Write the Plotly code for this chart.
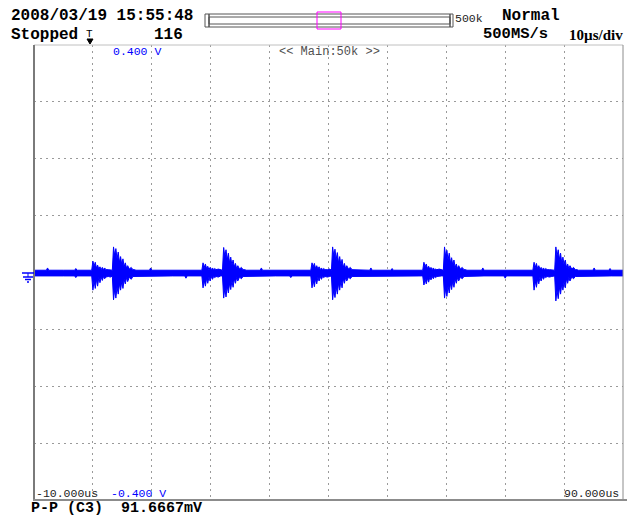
import plotly.graph_objects as go

# ---------------- data (time in microseconds, envelope voltage in mV) ----------------
base_t = [-10.0, -7.9, -7.7, -7.5, -5.0, -3.1, -2.9, -2.7, -0.4, 7.3, 9.6, 9.8, 10.0, 13.5,
          15.6, 15.8, 16.0, 18.3, 26.0, 28.4, 28.6, 28.8, 31.0, 33.4, 33.6, 33.8, 36.8, 44.5,
          47.0, 47.2, 47.4, 50.6, 50.8, 51.0, 53.5, 55.8, 63.5, 66.0, 66.2, 66.4, 69.8, 70.0,
          70.2, 74.5, 82.4, 84.9, 85.1, 85.3, 87.6, 87.8, 88.0, 90.0]
base_hi = [4, 4, 8, 4, 4, 4, 7, 4, 4, 4, 4, 8, 4, 4, 4, 4, 4, 4, 4, 4, 8, 4, 4, 4, 4, 4,
           4, 4, 4, 8, 4, 4, 7, 4, 4, 4, 4, 4, 8, 4, 4, 4, 4, 4, 4, 4, 8, 4, 4, 7, 4, 4]
base_lo = [-6, -6, -6, -6, -6, -6, -9, -6, -6, -6, -6, -6, -6, -6, -6, -10, -6, -6, -6, -6, -6, -6, -6, -6, -9, -6,
           -6, -6, -6, -6, -6, -6, -6, -6, -6, -6, -6, -6, -6, -6, -6, -10, -6, -6, -6, -6, -6, -6, -6, -6, -6, -6]

burst1_t = [-0.2, 0.0, 0.2, 0.4, 0.6, 0.8, 1.0, 1.2, 1.4, 1.6, 1.8, 2.0, 2.2, 2.6, 3.0, 3.3, 3.5,
            3.7, 3.9, 4.1, 4.3, 4.5, 4.7, 4.9, 5.1, 5.3, 5.5, 5.7, 5.9, 6.2, 6.5, 6.8, 7.1]
burst1_hi = [4, 20, 11, 18, 8, 13, 6, 10, 5, 9, 5, 8, 5, 5, 5, 4, 45,
             30, 42, 24, 36, 18, 28, 14, 24, 10, 17, 8, 12, 6, 9, 5, 5]
burst1_lo = [-6, -31, -15, -28, -12, -24, -9, -18, -8, -14, -7, -11, -8, -7, -8, -6, -48,
             -30, -45, -26, -38, -20, -31, -16, -28, -12, -20, -9, -16, -8, -12, -7, -7]

burst2_t = [18.5, 18.7, 18.9, 19.1, 19.3, 19.5, 19.7, 19.9, 20.1, 20.3, 20.5, 20.7, 20.9, 21.3, 21.7, 22.0, 22.2,
            22.4, 22.6, 22.8, 23.0, 23.2, 23.4, 23.6, 23.8, 24.0, 24.2, 24.4, 24.6, 24.9, 25.2, 25.5, 25.8]
burst2_hi = [4, 17, 9, 15, 7, 11, 5, 9, 5, 8, 5, 7, 5, 6, 5, 4, 44,
             28, 40, 22, 34, 17, 27, 13, 22, 10, 16, 7, 12, 6, 9, 5, 5]
burst2_lo = [-6, -27, -14, -24, -10, -19, -8, -15, -7, -12, -7, -9, -7, -8, -6, -6, -45,
             -28, -43, -24, -36, -19, -30, -15, -26, -11, -19, -9, -15, -8, -11, -7, -7]

burst3_t = [37.0, 37.2, 37.4, 37.6, 37.8, 38.0, 38.2, 38.4, 38.6, 38.8, 39.0, 39.2, 39.4, 39.8, 40.2, 40.5, 40.7,
            40.9, 41.1, 41.3, 41.5, 41.7, 41.9, 42.1, 42.3, 42.5, 42.7, 42.9, 43.1, 43.4, 43.7, 44.0, 44.3]
burst3_hi = [4, 17, 10, 16, 7, 12, 6, 10, 5, 8, 5, 7, 5, 5, 6, 4, 45,
             29, 41, 23, 35, 17, 28, 13, 23, 9, 16, 7, 12, 6, 9, 5, 5]
burst3_lo = [-6, -27, -14, -25, -11, -20, -8, -15, -7, -12, -7, -9, -7, -8, -7, -6, -48,
             -30, -44, -25, -38, -19, -31, -15, -27, -11, -19, -9, -15, -8, -11, -7, -7]

burst4_t = [56.0, 56.2, 56.4, 56.6, 56.8, 57.0, 57.2, 57.4, 57.6, 57.8, 58.0, 58.2, 58.4, 58.8, 59.2, 59.5, 59.7,
            59.9, 60.1, 60.3, 60.5, 60.7, 60.9, 61.1, 61.3, 61.5, 61.7, 61.9, 62.1, 62.4, 62.7, 63.0, 63.3]
burst4_hi = [4, 18, 10, 15, 7, 11, 6, 9, 5, 8, 5, 6, 5, 6, 5, 4, 45,
             28, 39, 22, 34, 17, 26, 13, 22, 9, 15, 7, 12, 6, 9, 5, 5]
burst4_lo = [-6, -22, -12, -20, -10, -17, -8, -13, -7, -11, -7, -9, -7, -7, -6, -6, -45,
             -28, -42, -24, -36, -19, -30, -15, -26, -11, -19, -9, -15, -8, -11, -7, -7]

burst5_t = [74.7, 74.9, 75.1, 75.3, 75.5, 75.7, 75.9, 76.1, 76.3, 76.5, 76.7, 76.9, 77.1, 77.5, 77.9, 78.4, 78.6,
            78.8, 79.0, 79.2, 79.4, 79.6, 79.8, 80.0, 80.2, 80.4, 80.6, 80.8, 81.0, 81.3, 81.6, 81.9, 82.2]
burst5_hi = [4, 18, 9, 16, 7, 12, 6, 9, 5, 8, 5, 7, 5, 5, 5, 4, 45,
             29, 40, 23, 34, 17, 27, 13, 22, 9, 15, 7, 12, 6, 9, 5, 5]
burst5_lo = [-6, -31, -15, -26, -11, -20, -8, -15, -7, -12, -7, -9, -7, -8, -7, -6, -50,
             -31, -46, -26, -38, -20, -31, -16, -27, -11, -19, -9, -15, -8, -11, -7, -7]

x_range_us = [-10, 90]
y_range_mV = [-400, 400]

# ---------------- assemble envelope ----------------
segments = [(base_t, base_hi, base_lo), (burst1_t, burst1_hi, burst1_lo),
            (burst2_t, burst2_hi, burst2_lo), (burst3_t, burst3_hi, burst3_lo),
            (burst4_t, burst4_hi, burst4_lo), (burst5_t, burst5_hi, burst5_lo)]
pts = []
for t, hi, lo in segments:
    assert len(t) == len(hi) == len(lo), (len(t), len(hi), len(lo))
    pts.extend(zip(t, hi, lo))
pts.sort(key=lambda p: p[0])
tt = [p[0] for p in pts]
hh = [p[1] for p in pts]
ll = [p[2] for p in pts]

fig = go.Figure()
fig.add_trace(go.Scatter(
    x=tt + tt[::-1], y=hh + ll[::-1], fill="toself", fillcolor="#0000ff",
    mode="lines", line=dict(color="#0000ff", width=1), hoverinfo="skip", showlegend=False))

W, H = 627, 519
L, R, T, B = 34, 623, 45, 500


def px(x):
    return (x - L) / (R - L)


def py(y):
    return (B - y) / (B - T)


grid = dict(showgrid=True, gridcolor="#9a9a9a", gridwidth=1, griddash="2px,4px",
            zeroline=False, showline=False, showticklabels=False, ticks="")
fig.update_xaxes(range=x_range_us, dtick=10, tick0=-10, **grid)
fig.update_yaxes(range=y_range_mV, dtick=100, tick0=0, **grid)

shapes = []


def line(x0, y0, x1, y1, color, width):
    shapes.append(dict(type="line", xref="paper", yref="paper", x0=px(x0), y0=py(y0),
                       x1=px(x1), y1=py(y1), line=dict(color=color, width=width), layer="above"))


def rect(x0, y0, x1, y1, color, width=1):
    shapes.append(dict(type="rect", xref="paper", yref="paper", x0=px(x0), y0=py(y0),
                       x1=px(x1), y1=py(y1), line=dict(color=color, width=width), layer="above"))


# plot border
line(L, T, R, T, "#c0c0c0", 1)
line(R, T, R, B, "#8c8c8c", 1)
line(L, T, L, B + 1, "#7a7a7a", 2)
line(L - 1, B, W, B, "#8c8c8c", 2)

# zoom bar at the top
rect(205, 14, 209, 27, "#555555")
rect(209, 14, 450, 27, "#555555")
rect(209, 17, 450, 24, "#555555")
rect(450, 14, 453, 27, "#555555")
rect(317, 12, 341, 29, "#ff00ff")

# ground marker
line(22, 273, 34, 273, "#0000ff", 1.5)
line(28, 273, 28, 277, "#0000ff", 1)
line(23, 277, 33, 277, "#0000ff", 1.5)
line(25, 279.5, 31, 279.5, "#0000ff", 1.5)
line(27, 282, 29, 282, "#0000ff", 1.5)

# trigger marker triangle
shapes.append(dict(type="path", xref="paper", yref="paper",
                   path=f"M {px(87)} {py(39)} L {px(93)} {py(39)} L {px(90)} {py(44)} Z",
                   fillcolor="#000000", line=dict(color="#000000", width=1), layer="above"))

ann = []
MONO = "Liberation Mono, DejaVu Sans Mono, monospace"


def text(x, y, s, size, color="#000000", bold=False, family=MONO):
    ann.append(dict(xref="paper", yref="paper", x=px(x), y=py(y), text=(f"<b>{s}</b>" if bold else s),
                    showarrow=False, xanchor="left", yanchor="middle",
                    font=dict(family=family, size=size, color=color)))


text(9, 16, "2008/03/19 15:55:48", 16, bold=True)
text(9, 35, "Stopped", 16, bold=True)
text(84, 34, "T", 11)
text(152, 35, "116", 16, bold=True)
text(453, 19, "500k", 11.5, "#222222")
text(500, 16, "Normal", 16, bold=True)
text(481, 34, "500MS/s", 15.5, bold=True)
text(567, 35, "10µs/div", 15, bold=True, family="Liberation Serif, serif")
text(111, 52, "0.400 V", 11.5, "#0000ff")
text(277, 52, "<< Main:50k >>", 12, "#505050")
text(34, 493, "-10.000us", 11.5, "#222222")
text(109, 493, "-0.400 V", 11.5, "#0000ff")
text(562, 493, "90.000us", 11.5, "#222222")
text(29, 509, "P-P (C3)  91.6667mV", 15, bold=True)

fig.update_layout(width=W, height=H, margin=dict(l=L, r=W - R, t=T, b=H - B, pad=0),
                  paper_bgcolor="#ffffff", plot_bgcolor="#ffffff",
                  shapes=shapes, annotations=ann, showlegend=False)

fig.write_html("out.html", config={"displayModeBar": False},
               post_script="document.body.style.margin='0px';document.body.style.overflow='hidden';")
